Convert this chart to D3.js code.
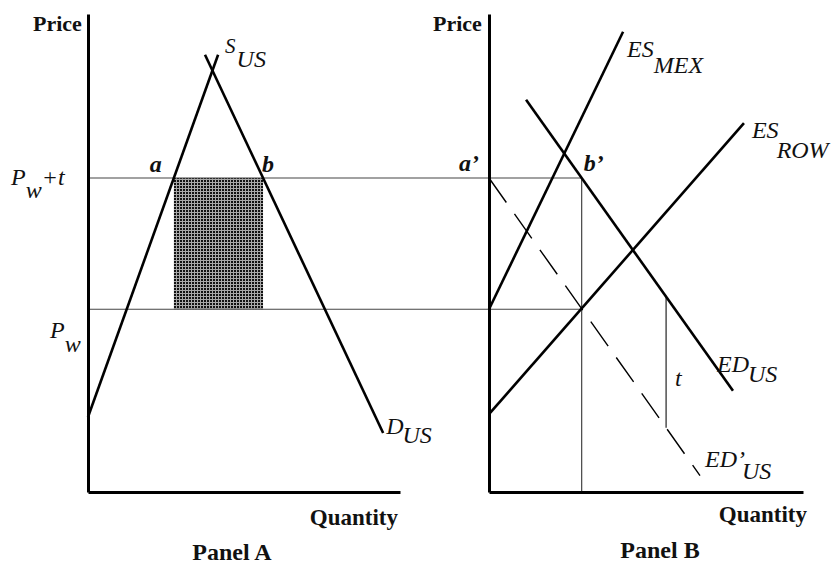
<!DOCTYPE html>
<html lang="en">
<head>
    <meta charset="UTF-8">
    <title>tariff with two exporters</title>
    <script src="https://d3js.org/d3.v7.min.js"></script>
    <style>
        body { margin: 0; background: #fff; }
        text { font-family: "Liberation Serif", "Times New Roman", serif; fill: #111; }
        .lbl { font-weight: bold; }
        .it { font-size: 24px; font-style: italic; }
    </style>
</head>
<body>
    <svg width="834" height="565"></svg>
    <script>
        // prices: world price and tariff
        const pw = 39;
        const tariff = 28;

        // panel A curves (quantity, price)
        const supplyUS = [[0, 16], [41.7, 93.3]];
        const demandUS = [[37.5, 93.3], [94.6, 12.6]];

        // panel B curves
        const esMex = [[0, 39], [42.7, 98.2]];
        const esRow = [[0, 16.6], [81.2, 78.7]];
        const edUS = [[11.8, 83.7], [77.7, 21.6]];
        const edUSTariff = [[0, 67], [67.2, 3.5]];
        const tMarkQ = 56.4; // where the tariff gap is shown

        const svg = d3.select('svg');

        const y = d3.scaleLinear().domain([0, 102]).range([492, 14]);
        const xA = d3.scaleLinear().domain([0, 100]).range([88, 400]);
        const xB = d3.scaleLinear().domain([0, 100]).range([489, 803]);

        // quantity on a segment at a given price, and the reverse
        const qAt = (seg, p) => {
            const [[q0, p0], [q1, p1]] = seg;
            return q0 + (p - p0) / (p1 - p0) * (q1 - q0);
        };
        const pAt = (seg, q) => {
            const [[q0, p0], [q1, p1]] = seg;
            return p0 + (q - q0) / (q1 - q0) * (p1 - p0);
        };

        // dotted fill for the tariff revenue
        const pat = svg.append('defs').append('pattern')
            .attr('id', 'dots')
            .attr('width', 3).attr('height', 3)
            .attr('patternUnits', 'userSpaceOnUse');
        pat.append('rect').attr('width', 3).attr('height', 3).attr('fill', '#a8a8a8');
        pat.append('rect').attr('width', 2).attr('height', 2).attr('fill', '#111');

        const qa = qAt(supplyUS, pw + tariff);
        const qb = qAt(demandUS, pw + tariff);
        svg.append('rect')
            .attr('x', xA(qa))
            .attr('y', y(pw + tariff))
            .attr('width', xA(qb) - xA(qa))
            .attr('height', y(pw) - y(pw + tariff))
            .attr('fill', 'url(#dots)');

        // price lines running across both panels
        const qbPrime = qAt(edUS, pw + tariff);
        [pw, pw + tariff].forEach(p => {
            svg.append('line')
                .attr('x1', xA(0)).attr('x2', xB(qbPrime))
                .attr('y1', y(p)).attr('y2', y(p))
                .attr('stroke', '#444').attr('stroke-width', 1.1);
        });

        // vertical at b'
        svg.append('line')
            .attr('x1', xB(qbPrime)).attr('x2', xB(qbPrime))
            .attr('y1', y(pw + tariff)).attr('y2', y(0))
            .attr('stroke', '#333').attr('stroke-width', 1.1);

        // tariff gap marker
        svg.append('line')
            .attr('x1', xB(tMarkQ)).attr('x2', xB(tMarkQ))
            .attr('y1', y(pAt(edUS, tMarkQ))).attr('y2', y(pAt(edUSTariff, tMarkQ)))
            .attr('stroke', '#333').attr('stroke-width', 1.3);

        // axes, no ticks
        [xA, xB].forEach(x => {
            svg.append('g')
                .attr('transform', 'translate(0,' + y(0) + ')')
                .call(d3.axisBottom(x).tickValues([]).tickSizeOuter(0))
                .select('.domain').attr('stroke', '#000').attr('stroke-width', 3);
            svg.append('g')
                .attr('transform', 'translate(' + x(0) + ',0)')
                .call(d3.axisLeft(y).tickValues([]).tickSizeOuter(0))
                .select('.domain').attr('stroke', '#000').attr('stroke-width', 3);
        });

        const line = x => d3.line().x(d => x(d[0])).y(d => y(d[1]));

        [supplyUS, demandUS].forEach(s => {
            svg.append('path').attr('d', line(xA)(s))
                .attr('fill', 'none').attr('stroke', '#000').attr('stroke-width', 2.6);
        });
        [esMex, esRow, edUS].forEach(s => {
            svg.append('path').attr('d', line(xB)(s))
                .attr('fill', 'none').attr('stroke', '#000').attr('stroke-width', 2.6);
        });
        svg.append('path').attr('d', line(xB)(edUSTariff))
            .attr('fill', 'none').attr('stroke', '#000').attr('stroke-width', 1.4)
            .attr('stroke-dasharray', '30,14');

        // text helpers
        const txt = (x, yy, s, cls, size) => svg.append('text')
            .attr('x', x).attr('y', yy).attr('class', cls)
            .style('font-size', size ? size + 'px' : null).text(s);
        // subscript same size, just lowered; dx shifts it from the end of the main text
        const sub = (x, yy, main, subs, dx, dy) => {
            const t = svg.append('text').attr('x', x).attr('y', yy).attr('class', 'it');
            t.append('tspan').text(main);
            t.append('tspan').attr('dx', dx).attr('dy', dy).text(subs);
            return t;
        };

        // panel A labels
        txt(xA(0) - 55, 31, 'Price', 'lbl', 22);
        txt(xA(100) - 2, 525, 'Quantity', 'lbl', 23).attr('text-anchor', 'end');
        txt(232, 560, 'Panel A', 'lbl', 24).attr('text-anchor', 'middle');
        sub(11, y(pw + tariff) + 7, 'P', 'w', 0, 13)
            .append('tspan').attr('dy', -13).text('+t');
        sub(50, y(pw) + 29, 'P', 'w', 0, 14);
        txt(xA(qa) - 24, y(pw + tariff) - 6, 'a', 'it').style('font-weight', 'bold');
        txt(xA(qb) - 1, y(pw + tariff) - 6, 'b', 'it').style('font-weight', 'bold');
        const sTop = supplyUS[1];
        const sLbl = sub(xA(sTop[0]) + 7, y(sTop[1]) - 2, 'S', 'US', 1, 14);
        sLbl.select('tspan').style('font-size', '21px');
        const dEnd = demandUS[1];
        sub(xA(dEnd[0]) + 3, y(dEnd[1]) + 1, 'D', 'US', -1, 9);

        // panel B labels
        txt(xB(0) - 56, 31, 'Price', 'lbl', 22);
        txt(xB(100) + 4, 522, 'Quantity', 'lbl', 23).attr('text-anchor', 'end');
        txt(660, 558, 'Panel B', 'lbl', 24).attr('text-anchor', 'middle');
        txt(xB(0) - 30, y(pw + tariff) - 7, 'a\u2019', 'it').style('font-weight', 'bold');
        txt(xB(qbPrime) + 2, y(pw + tariff) - 7, 'b\u2019', 'it').style('font-weight', 'bold');
        const mTop = esMex[1];
        sub(xB(mTop[0]) + 4, y(mTop[1]) + 25, 'ES', 'MEX', 0, 16);
        const rTop = esRow[1];
        sub(xB(rTop[0]) + 8, y(rTop[1]) + 15, 'ES', 'ROW', -2, 20);
        const eEnd = edUS[1];
        sub(xB(eEnd[0]) - 16, y(eEnd[1]) - 19, 'ED', 'US', -1, 10);
        const fEnd = edUSTariff[1];
        sub(xB(fEnd[0]) + 5, y(fEnd[1]) - 9, 'ED\u2019', 'US', -3, 12);
        txt(xB(tMarkQ) + 9, y(pAt(edUS, tMarkQ)) + 89, 't', 'it');
    </script>
</body>
</html>
